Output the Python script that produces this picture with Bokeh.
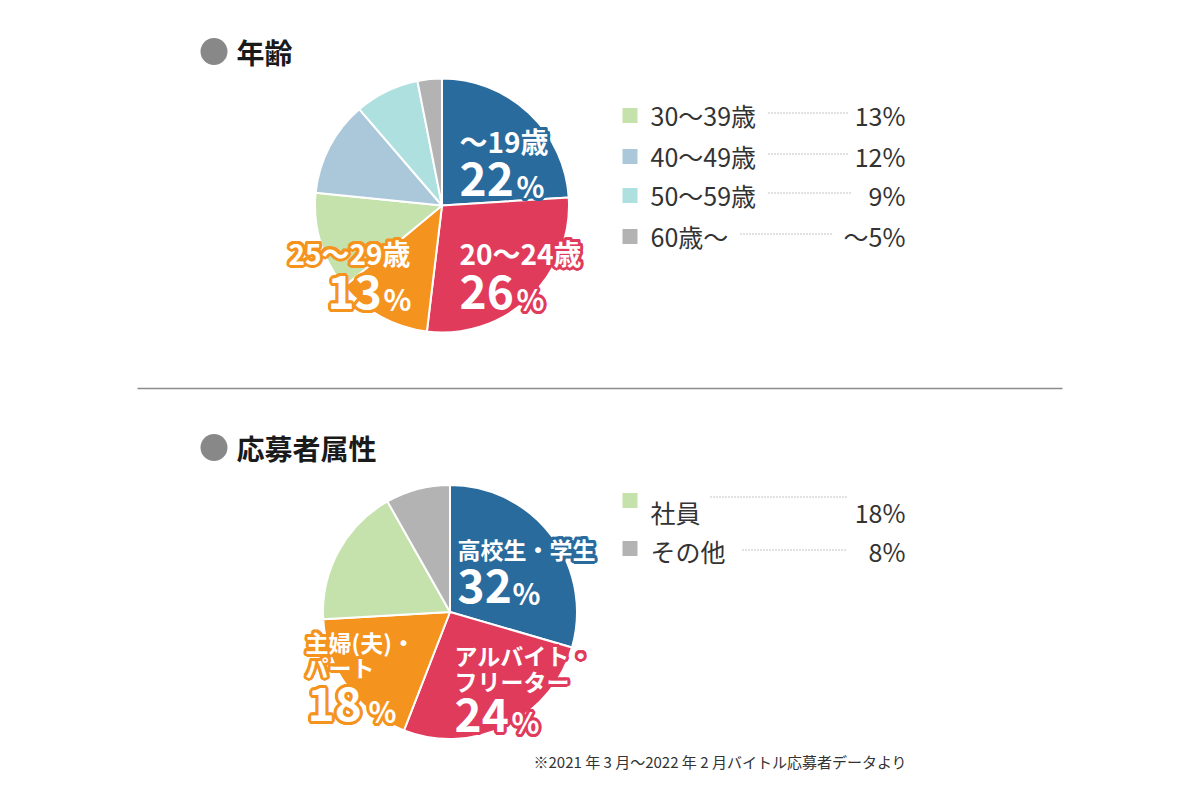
import numpy as np
from bokeh.plotting import figure
from bokeh.models import Range1d, ColumnDataSource
from bokeh.core.properties import value
from bokeh.embed import file_html
from bokeh.resources import INLINE

FONT = "Noto Sans CJK JP"

# ---------------- data ----------------
age_labels = ["～19歳", "20～24歳", "25～29歳", "30～39歳", "40～49歳", "50～59歳", "60歳～"]
age_pct = ["22", "26", "13", "13", "12", "9", "～5"]
age_share = [24.0, 27.9, 12.1, 12.6, 12.1, 8.2, 3.1]   # slice sizes as drawn
age_colors = ["#2a6b9e", "#e13b5c", "#f5931f", "#c5e2ad", "#abc8db", "#aee0e0", "#b3b3b3"]

attr_labels = ["高校生・学生", "アルバイト・フリーター", "主婦(夫)・パート", "社員", "その他"]
attr_pct = ["32", "24", "18", "18", "8"]
attr_share = [29.5, 26.4, 18.2, 17.7, 8.2]             # slice sizes as drawn
attr_colors = ["#2a6b9e", "#e13b5c", "#f5931f", "#c5e2ad", "#b3b3b3"]

titles = ["年齢", "応募者属性"]
footnote = "※2021 年 3 月～2022 年 2 月バイトル応募者データより"

# ---------------- figure ----------------
W, H = 1184, 784
p = figure(width=W, height=H, x_range=Range1d(0, W), y_range=Range1d(0, H),
           output_backend="svg", toolbar_location=None, min_border=0)
p.axis.visible = False
p.grid.visible = False
p.outline_line_color = None
p.background_fill_color = "white"
p.border_fill_color = "white"


def Y(sy):
    return H - sy


def pie(shares, colors, cx, cy, r):
    v = np.array(shares, dtype=float)
    f = v / v.sum()
    c1 = np.cumsum(f)
    c0 = c1 - f
    src = ColumnDataSource(dict(start=np.pi / 2 - 2 * np.pi * c1,
                                end=np.pi / 2 - 2 * np.pi * c0,
                                color=colors))
    p.wedge(x=cx, y=Y(cy), radius=r, radius_units="screen",
            start_angle="start", end_angle="end", direction="anticlock",
            fill_color="color", line_color="white", line_width=2, source=src)


ANG = np.linspace(0, 2 * np.pi, 16, endpoint=False)


def otext(x, y, txt, size, color, rad=3.0):
    # coloured halo drawn as offset copies, then the white text on top
    p.text(x=list(x + rad * np.cos(ANG)), y=list(Y(y) + rad * np.sin(ANG)),
           text=[txt] * len(ANG), text_font=value(FONT),
           text_font_size=f"{size}px", text_font_style="bold",
           text_color=color, text_align="left", text_baseline="middle")
    p.text(x=[x], y=[Y(y)], text=[txt], text_font=value(FONT),
           text_font_size=f"{size}px", text_font_style="bold",
           text_color="white", text_align="left", text_baseline="middle")


def big_pct(x, xp, base, num, color):
    # large number plus smaller "%" sharing one baseline
    otext(x, base - 0.36 * 46 - 2, num, 46, color)
    otext(xp, base - 0.36 * 29 - 2, "%", 29, color)


def ptext(x, y, txt, size, color="#333333", align="left", style="normal"):
    p.text(x=[x], y=[Y(y)], text=[txt], text_font=value(FONT),
           text_font_size=f"{size}px", text_font_style=style,
           text_color=color, text_align=align, text_baseline="middle")


def dotted(x0, x1, y):
    p.segment(x0=[x0], y0=[Y(y) + 0.5], x1=[x1], y1=[Y(y) + 0.5],
              line_color="#8a8a8a", line_width=1, line_dash="1 2")


# titles
for ty, t in zip([51, 447], titles):
    p.scatter(x=[213.5], y=[Y(ty)], marker="circle", size=27,
              fill_color="#888888", line_color=None)
    ptext(236, ty, t, 28, color="#1a1a1a", style="bold")

# divider
p.segment(x0=[137], y0=[Y(388)], x1=[1062], y1=[Y(388)], line_color="#8c8c8c", line_width=1.5)

# ---------------- age pie ----------------
pie(age_share, age_colors, 441.5, 205, 127)

otext(459, 140, age_labels[0], 28, age_colors[0])
big_pct(459, 516, 197, age_pct[0], age_colors[0])

otext(459, 252, age_labels[1], 28, age_colors[1])
big_pct(459, 516, 310, age_pct[1], age_colors[1])

otext(288, 252, age_labels[2], 28, age_colors[2])
big_pct(327, 383, 310, age_pct[2], age_colors[2])

# age legend
leg_rows = [115, 156, 195, 236]
dots = [(768, 847), (768, 847), (768, 850), (740, 833)]
for i, ry in enumerate(leg_rows):
    k = i + 3
    p.scatter(x=[629.5], y=[Y(ry)], marker="square", size=15,
              fill_color=age_colors[k], line_color=None)
    ptext(650, ry - 1, age_labels[k], 25)
    dotted(dots[i][0], dots[i][1], ry - 2)
    ptext(905, ry - 1, age_pct[k] + "%", 25, align="right")

# ---------------- attribute pie ----------------
pie(attr_share, attr_colors, 449.5, 611.5, 127)

otext(457, 548, attr_labels[0], 23, attr_colors[0])
big_pct(457, 512, 604, attr_pct[0], attr_colors[0])

lab1 = attr_labels[1].split("・")
otext(454, 654, lab1[0] + "・", 23, attr_colors[1])
otext(454, 680, lab1[1], 23, attr_colors[1])
big_pct(454, 511, 733, attr_pct[1], attr_colors[1])

lab2 = attr_labels[2].split("・")
otext(305, 641, lab2[0] + "・", 23, attr_colors[2])
otext(305, 666, lab2[1], 23, attr_colors[2])
big_pct(307, 368, 722, attr_pct[2], attr_colors[2])

# attribute legend
sq_rows = [500, 548]
txt_rows = [511, 550]
dot_rows = [497, 550]
dots2 = [(710, 847), (742, 847)]
for i in range(2):
    k = i + 3
    p.scatter(x=[629.5], y=[Y(sq_rows[i])], marker="square", size=15,
              fill_color=attr_colors[k], line_color=None)
    ptext(650, txt_rows[i], attr_labels[k], 25)
    dotted(dots2[i][0], dots2[i][1], dot_rows[i])
    ptext(905, txt_rows[i], attr_pct[k] + "%", 25, align="right")

# footnote
ptext(533, 761, footnote, 15)

open("out.html", "w").write(file_html(p, INLINE))
